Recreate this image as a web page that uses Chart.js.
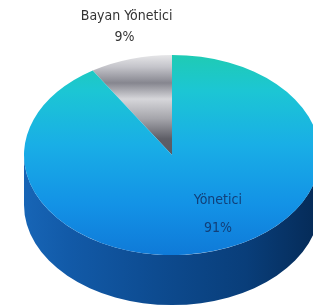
<!DOCTYPE html>
<html>
<head>
<meta charset="utf-8">
<script src="https://cdn.jsdelivr.net/npm/chart.js@4"></script>
<style>
  html, body { margin: 0; padding: 0; background: #fff; overflow: hidden; }
  #wrap { width: 313px; height: 307px; overflow: hidden; position: relative; }
  canvas { position: absolute; left: 0; top: 0; }
</style>
</head>
<body>
<div id="wrap"><canvas id="pie" width="340" height="340"></canvas></div>
<script>
// data
var labels = ["Bayan Yönetici", "Yönetici"];
var values = [9, 91];
var pctLabels = ["9%", "91%"];

// 3d look
var TILT = 0.676;   // vertical squash of the top face
var CENTER_Y = 155; // screen y of pie centre
var DEPTH = 50;     // side height in screen px

var total = values.reduce(function(a, b){ return a + b; }, 0);

function faceGradient(c) {
  var a = c.chart.chartArea;
  if (!a) return '#1aa0e0';
  var cy = (a.top + a.bottom) / 2, r = Math.min(a.width, a.height) / 2;
  var g = c.chart.ctx.createLinearGradient(0, cy - r, 0, cy + r);
  if (c.dataIndex === 0) {
    // metallic grey
    g.addColorStop(0.00, '#e6e6e8');
    g.addColorStop(0.06, '#c4c4ca');
    g.addColorStop(0.14, '#86868f');
    g.addColorStop(0.22, '#d6d6da');
    g.addColorStop(0.32, '#a4a4aa');
    g.addColorStop(0.42, '#5e5e66');
    g.addColorStop(1.00, '#404048');
  } else {
    g.addColorStop(0.00, '#1fcbb4');
    g.addColorStop(0.18, '#1cc6d4');
    g.addColorStop(0.45, '#19aee6');
    g.addColorStop(0.75, '#1392e6');
    g.addColorStop(1.00, '#0f7ad8');
  }
  return g;
}

var pie3d = {
  id: 'pie3d',
  beforeDatasetsDraw: function(chart) {
    var ctx = chart.ctx;
    var meta = chart.getDatasetMeta(0);
    var cx = meta.data[0].x, cy = meta.data[0].y;
    ctx.save();
    ctx.translate(cx, CENTER_Y);
    ctx.scale(1, TILT);
    ctx.translate(-cx, -cy);
    var d = DEPTH / TILT;
    var r = meta.data[0].outerRadius;
    var side = ctx.createLinearGradient(cx - r, 0, cx + r, 0);
    side.addColorStop(0.00, '#1765b6');
    side.addColorStop(0.15, '#125aa8');
    side.addColorStop(0.45, '#0d4b90');
    side.addColorStop(0.75, '#093e7a');
    side.addColorStop(1.00, '#052a56');
    meta.data.forEach(function(arc) {
      // only the front half (0..PI) shows a side wall
      var s = Math.max(arc.startAngle, 0), e = Math.min(arc.endAngle, Math.PI);
      var s2 = Math.max(arc.startAngle, 2 * Math.PI), e2 = Math.min(arc.endAngle, 3 * Math.PI);
      [[s, e], [s2, e2]].forEach(function(p) {
        if (p[1] <= p[0]) return;
        ctx.beginPath();
        ctx.arc(arc.x, arc.y, arc.outerRadius, p[0], p[1]);
        ctx.arc(arc.x, arc.y + d, arc.outerRadius, p[1], p[0], true);
        ctx.closePath();
        ctx.fillStyle = side;
        ctx.fill();
      });
    });
  },
  afterDatasetsDraw: function(chart) {
    var ctx = chart.ctx;
    ctx.restore();
    var meta = chart.getDatasetMeta(0);
    var font = '14px "Liberation Sans Narrow", "DejaVu Sans Condensed", sans-serif';
    ctx.save();
    ctx.font = font;
    ctx.textAlign = 'center';
    ctx.textBaseline = 'middle';
    var ry = meta.data[0].outerRadius * TILT;
    meta.data.forEach(function(arc, i) {
      var x, y;
      if (i === 0) {
        var mid = (arc.startAngle + arc.endAngle) / 2;
        x = arc.x + Math.cos(mid) * arc.outerRadius * 1.1;
        y = CENTER_Y - ry - 39;
        ctx.fillStyle = '#333333';
        ctx.fillText(labels[i], x, y);
        ctx.fillText(pctLabels[i], x - 2, y + 21);
      } else {
        x = arc.x + 0.31 * arc.outerRadius;
        y = CENTER_Y + 0.45 * ry;
        ctx.fillStyle = '#123f78';
        ctx.fillText(labels[i], x, y);
        ctx.fillText(pctLabels[i], x, y + 28);
      }
    });
    ctx.restore();
  }
};

new Chart("pie", {
  type: "pie",
  data: {
    labels: labels,
    datasets: [{
      data: values,
      backgroundColor: faceGradient,
      borderWidth: 0
    }]
  },
  options: {
    responsive: false,
    animation: false,
    rotation: -values[0] / total * 360,
    layout: { padding: { left: 24, right: 20, top: 0, bottom: 44 } },
    plugins: {
      legend: { display: false },
      tooltip: { enabled: false }
    }
  },
  plugins: [pie3d]
});
</script>
</body>
</html>
